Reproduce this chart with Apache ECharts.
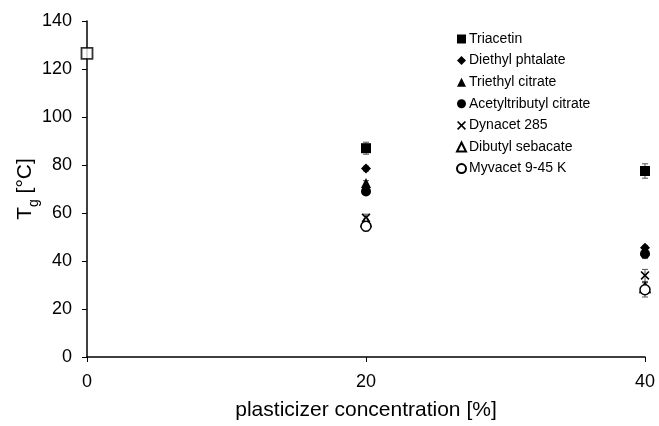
<!DOCTYPE html>
<html>
<head>
<meta charset="utf-8">
<script src="https://cdn.jsdelivr.net/npm/echarts@6/dist/echarts.min.js"></script>
<style>
  html, body { margin: 0; padding: 0; background: #fff; }
  #chart { width: 659px; height: 426px; }
</style>
</head>
<body>
<div id="chart"></div>
<script>
// Plasticizer concentration levels [%]
const concentrations = [20, 40];

// Glass transition temperature of the unplasticized polymer [°C]
const neatTg = 126.5;

// Tg [°C] at 20 % and 40 % plasticizer
const plasticizers = ['Triacetin', 'Diethyl phtalate', 'Triethyl citrate', 'Acetyltributyl citrate', 'Dynacet 285', 'Dibutyl sebacate', 'Myvacet 9-45 K'];
const triacetin = [87, 77.5];
const diethylPhtalate = [78.5, 45.5];
const triethylCitrate = [72.5, 44.5];
const acetyltributylCitrate = [69, 43];
const dynacet285 = [58, 34];
const dibutylSebacate = [56.5, 29];
const myvacet945K = [54.5, 28];

// Standard deviations [°C]
const triacetinSd = [2.5, 3];
const diethylPhtalateSd = [1, 1];
const triethylCitrateSd = [1, 1];
const acetyltributylCitrateSd = [1, 2];
const dynacet285Sd = [1.5, 2.5];
const dibutylSebacateSd = [1, 2];
const myvacet945KSd = [2, 3];

// Axis ticks
const xTicks = [0, 20, 40];
const yTicks = [0, 20, 40, 60, 80, 100, 120, 140];

const xMark = 'path://M0,1.3 L1.3,0 L5,3.7 L8.7,0 L10,1.3 L6.3,5 L10,8.7 L8.7,10 L5,6.3 L1.3,10 L0,8.7 L3.7,5 Z';

const seriesDefs = [
  { name: plasticizers[0], values: triacetin, sd: triacetinSd, symbol: 'rect', size: 10, open: false },
  { name: plasticizers[1], values: diethylPhtalate, sd: diethylPhtalateSd, symbol: 'diamond', size: 10, open: false },
  { name: plasticizers[2], values: triethylCitrate, sd: triethylCitrateSd, symbol: 'triangle', size: 10, open: false },
  { name: plasticizers[3], values: acetyltributylCitrate, sd: acetyltributylCitrateSd, symbol: 'circle', size: 10, open: false },
  { name: plasticizers[4], values: dynacet285, sd: dynacet285Sd, symbol: xMark, size: 9, open: false },
  { name: plasticizers[5], values: dibutylSebacate, sd: dibutylSebacateSd, symbol: 'triangle', size: 10, open: true },
  { name: plasticizers[6], values: myvacet945K, sd: myvacet945KSd, symbol: 'circle', size: 10, open: true }
];

const fontFamily = '"Liberation Sans", Arial, sans-serif';

// error bars: [x, low, high]
const errorData = [];
seriesDefs.forEach(d => {
  concentrations.forEach((c, i) => {
    errorData.push([c, d.values[i] - d.sd[i], d.values[i] + d.sd[i]]);
  });
});

const series = [
  {
    type: 'custom',
    name: 'sd',
    silent: true,
    z: 1,
    renderItem: function (params, api) {
      const x = api.value(0);
      const lo = api.coord([x, api.value(1)]);
      const hi = api.coord([x, api.value(2)]);
      const w = 3;
      const style = { stroke: '#555', lineWidth: 1 };
      return {
        type: 'group',
        children: [
          { type: 'line', shape: { x1: lo[0], y1: lo[1], x2: hi[0], y2: hi[1] }, style: style },
          { type: 'line', shape: { x1: lo[0] - w, y1: lo[1], x2: lo[0] + w, y2: lo[1] }, style: style },
          { type: 'line', shape: { x1: hi[0] - w, y1: hi[1], x2: hi[0] + w, y2: hi[1] }, style: style }
        ]
      };
    },
    encode: { x: 0, y: [1, 2] },
    data: errorData,
    clip: false
  },
  {
    type: 'scatter',
    name: 'neat',
    symbol: 'rect',
    symbolSize: 11,
    clip: false,
    z: 3,
    itemStyle: { color: '#fff', borderColor: '#000', borderWidth: 1.8 },
    data: [[0, neatTg]]
  }
];

seriesDefs.forEach(d => {
  series.push({
    type: 'scatter',
    name: d.name,
    symbol: d.symbol,
    symbolSize: d.size,
    clip: false,
    z: 2,
    itemStyle: d.open
      ? { color: '#fff', borderColor: '#000', borderWidth: 1.5, opacity: 1 }
      : { color: '#000', opacity: 1 },
    data: concentrations.map((c, i) => [c, d.values[i]])
  });
});

const chart = echarts.init(document.getElementById('chart'), null, { renderer: 'canvas' });
chart.setOption({
  animation: false,
  backgroundColor: '#fff',
  textStyle: { fontFamily: fontFamily },
  grid: { left: 87, right: 14, top: 21, bottom: 69, containLabel: false, outerBoundsMode: 'none' },
  legend: {
    data: plasticizers,
    orient: 'vertical',
    left: 451,
    top: 27,
    itemWidth: 9,
    itemHeight: 9,
    itemGap: 7.6,
    textStyle: { fontSize: 14, lineHeight: 14, color: '#000', fontFamily: fontFamily, padding: [0, 0, 0, -2] },
    selectedMode: false
  },
  xAxis: {
    type: 'value',
    min: xTicks[0],
    max: xTicks[xTicks.length - 1],
    interval: xTicks[1] - xTicks[0],
    name: 'plasticizer concentration [%]',
    nameLocation: 'middle',
    nameGap: 43,
    nameMoveOverlap: false,
    nameTextStyle: { fontSize: 21, color: '#000', fontFamily: fontFamily },
    axisLine: { lineStyle: { color: '#000', width: 1.5 } },
    axisTick: { show: true, inside: false, length: 5, lineStyle: { color: '#000' } },
    axisLabel: { fontSize: 18, color: '#000', margin: 16, fontFamily: fontFamily },
    splitLine: { show: false }
  },
  yAxis: {
    type: 'value',
    min: yTicks[0],
    max: yTicks[yTicks.length - 1],
    interval: yTicks[1] - yTicks[0],
    name: '{t|T}{g|g}{t| [°C]}',
    nameLocation: 'middle',
    nameGap: 51,
    nameMoveOverlap: false,
    nameRotate: 90,
    nameTextStyle: {
      color: '#000',
      fontFamily: fontFamily,
      rich: {
        t: { fontSize: 21, color: '#000', fontFamily: fontFamily, verticalAlign: 'bottom', lineHeight: 24 },
        g: { fontSize: 14, color: '#000', fontFamily: fontFamily, verticalAlign: 'bottom', lineHeight: 16, padding: [0, 0, -5, 0] }
      }
    },
    axisLine: { show: true, lineStyle: { color: '#000', width: 1.5 } },
    axisTick: { show: true, inside: false, length: 5, lineStyle: { color: '#000' } },
    axisLabel: { fontSize: 18, color: '#000', margin: 15, fontFamily: fontFamily },
    splitLine: { show: false }
  },
  series: series
});
</script>
</body>
</html>
